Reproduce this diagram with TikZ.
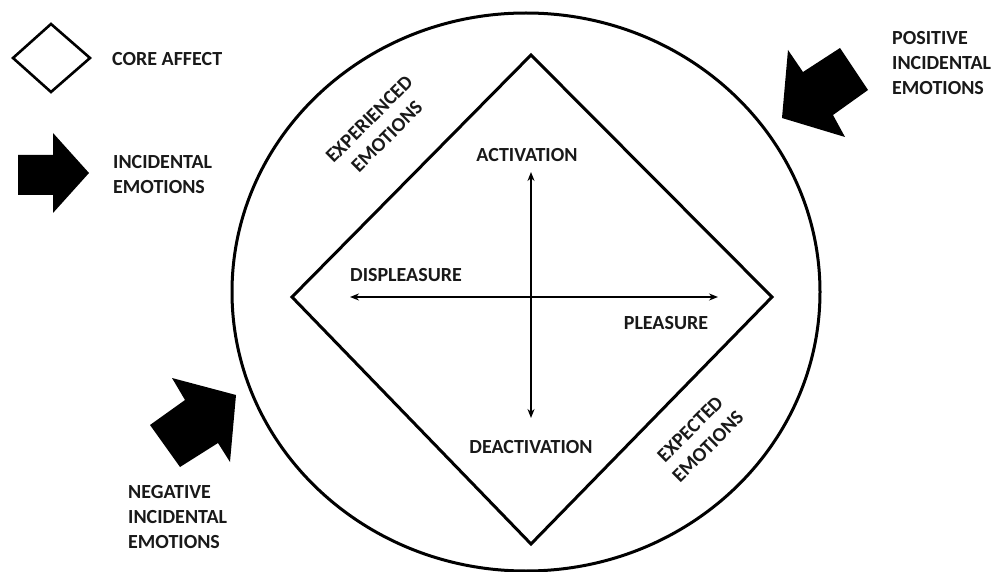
\documentclass[tikz,border=0pt]{standalone}
\usepackage{fontspec}
\setmainfont{Carlito}
\usetikzlibrary{arrows.meta}
\newcommand\lbl{\fontsize{20}{25}\selectfont\bfseries}
\tikzset{
  thick line/.style={line width=3pt},
  axis/.style={line width=1.6pt,{Stealth[length=9pt,width=7pt]}-{Stealth[length=9pt,width=7pt]}},
  block/.style={fill=black}
}
\begin{document}
\begin{tikzpicture}
  [x=1pt,y=-1pt,every node/.style={font=\lbl,inner sep=0pt,text=black!90}]
  \useasboundingbox (0,0) rectangle (997,572);
  % legend
  \coordinate (ln) at (51,24);
  \coordinate (le) at (90,58);
  \coordinate (ls) at (51,92);
  \coordinate (lw) at (13,58);
  \draw[line width=2.6pt] (ln) -- (le) -- (ls) -- (lw) -- cycle;
  \node[anchor=west] (core) at (112,59) {CORE AFFECT};
  \fill[block] (18,155) -- (53,155) -- (53,133) -- (89,173) -- (53,213) -- (53,195) -- (18,195) -- cycle;
  \node[anchor=west,align=left] (inc) at (113,175) {INCIDENTAL\\EMOTIONS};
  % outer ellipse
  \draw[thick line] (526,292) ellipse [x radius=294, y radius=279];
  % core affect diamond
  \coordinate (n) at (531,55);
  \coordinate (e) at (772,297);
  \coordinate (s) at (531,544);
  \coordinate (w) at (292,297);
  \draw[thick line,line join=miter] (n) -- (e) -- (s) -- (w) -- cycle;
  % axes
  \coordinate (ax1) at (350,297);
  \coordinate (ax2) at (718,297);
  \coordinate (ay1) at (531,172);
  \coordinate (ay2) at (531,418);
  \foreach \from/\to in {ax1/ax2,ay1/ay2}
    \draw[axis] (\from) -- (\to);
  \node (act) at (527,155) {ACTIVATION};
  \node (deact) at (531,447) {DEACTIVATION};
  \node (displ) at (406,275) {DISPLEASURE};
  \node (pleas) at (666,323) {PLEASURE};
  \node[rotate=45,align=center] (exper) at (378,128) {EXPERIENCED\\EMOTIONS};
  \node[rotate=45,align=center] (expec) at (699,438) {EXPECTED\\EMOTIONS};
  % incidental emotions
  \fill[block] (788,50) -- (803,72) -- (840,48) -- (868,90) -- (833,115) -- (845,137) -- (782,118) -- cycle;
  \node[anchor=west,align=left] (pos) at (892,63) {POSITIVE\\INCIDENTAL\\EMOTIONS};
  \fill[block] (172,378) -- (236,395) -- (230,462) -- (218,443) -- (180,467) -- (150,425) -- (185,400) -- cycle;
  \node[anchor=west,align=left] (neg) at (128,517) {NEGATIVE\\INCIDENTAL\\EMOTIONS};
\end{tikzpicture}
\end{document}
